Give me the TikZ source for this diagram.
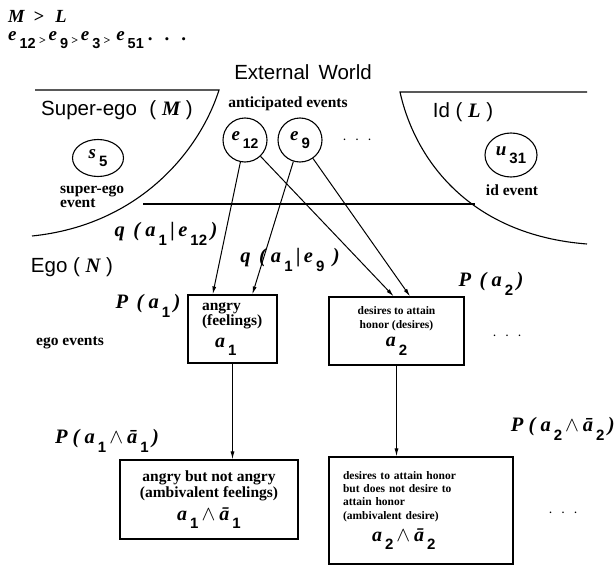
\documentclass[tikz,border=0pt]{standalone}
\usepackage{fontspec}
\setmainfont{Liberation Serif}
\newfontfamily\hv{Liberation Sans}
\usepackage{tikz}
\usetikzlibrary{shapes.geometric,arrows.meta,calc}

\newcommand{\mv}[1]{{\rmfamily\bfseries\itshape #1}}
\newcommand{\vsub}[3][15]{\mv{#2}\hspace{3pt}\raisebox{-0.42em}{\hv\bfseries\upshape\fontsize{#1}{#1}\selectfont #3}}
\newcommand{\gt}{\hspace{3pt}{\fontsize{12}{12}\selectfont\raisebox{-4pt}{\mv{>}}}\hspace{3pt}}
\newcommand{\wg}{\hspace{3pt}{\fontsize{22}{22}\selectfont$\wedge$}\hspace{4pt}}
\newcommand{\tdots}[1][10pt]{{\bfseries .\hspace{#1}.\hspace{#1}.}}

\begin{document}
\begin{tikzpicture}[x=1pt,y=-1pt,
  world/.style={font=\hv\fontsize{20.5}{22}\selectfont, inner sep=0pt},
  note/.style={font=\bfseries\fontsize{15.5}{14}\selectfont, align=left, inner sep=0pt},
  prob/.style={font=\bfseries\itshape\fontsize{20.5}{20.5}\selectfont, inner sep=0pt},
  evt/.style={draw, ellipse, line width=1.1pt, inner sep=0pt, font=\fontsize{19}{19}\selectfont},
  egobox/.style={draw, rectangle, line width=1.1pt, inner sep=0pt, align=center},
  link/.style={line width=1pt, -{Latex[length=8pt,width=4pt]}},
  rim/.style={line width=1.1pt}]
\useasboundingbox (0,0) rectangle (615,567);

\node[anchor=west, inner sep=0pt, font=\fontsize{18.5}{18.5}\selectfont] (order) at (8,16) {\mv{M\hspace{4pt} >\hspace{7pt} L}};
\node[anchor=west, inner sep=0pt, font=\fontsize{19}{19}\selectfont] (chain) at (8,40)
  {\vsub[14.5]{e}{12}\gt\vsub[14.5]{e}{9}\gt\vsub[14.5]{e}{3}\gt\hspace{3pt}\vsub[14.5]{e}{51}\hspace{4pt}\tdots[12pt]};

\node[world] (world) at (303,72) {External\, World};

\draw[rim] (35,90) -- (219,90) .. controls (200,150) and (140,225) .. (32,236);
\draw[rim] (587,92) -- (400,92) .. controls (415,160) and (470,235) .. (587,244);
\draw[rim] (143,204) -- (475,204);

\node[world] (superego) at (117,110) {Super-ego\,\, ( \mv{M} )};
\node[evt, minimum width=51pt, minimum height=37pt] (s5) at (98,158) {\vsub{s}{5}};
\node[note, anchor=west] (selabel) at (60,197) {super-ego\\event};

\node[note] (antic) at (288,104) {anticipated events};
\node[evt, minimum width=44pt, minimum height=44pt] (e12) at (245,140) {\vsub[14]{e}{12}};
\node[evt, minimum width=44pt, minimum height=44pt] (e9) at (300,140) {\vsub{e}{9}};
\node[inner sep=0pt] (edots) at (357,140) {\tdots};

\node[world] (id) at (463,112) {Id ( \mv{L} )};
\node[evt, minimum width=52pt, minimum height=44pt] (u31) at (511,155) {\vsub{u}{31}};
\node[note] (idlabel) at (512,190) {id event};

\node[world] (ego) at (72,267) {Ego ( \mv{N} )};
\node[note] (egolabel) at (70,343) {ego events};

\node[egobox, minimum width=89pt, minimum height=68pt, text width=61pt, align=left,
  font=\bfseries\fontsize{15.5}{14}\selectfont] (a1) at (232.5,329)
  {angry\\(feelings)\\[8pt]{\fontsize{20}{20}\selectfont\hspace*{13pt}\vsub{a}{1}}};
\node[egobox, minimum width=135pt, minimum height=68pt,
  font=\bfseries\fontsize{11.5}{14}\selectfont] (a2) at (396.5,331)
  {desires to attain\\honor (desires)\\[4pt]{\fontsize{20}{20}\selectfont\vsub{a}{2}}};

\node[egobox, minimum width=178pt, minimum height=79pt,
  font=\bfseries\fontsize{15.5}{16}\selectfont] (amb1) at (209,499.5)
  {angry but not angry\\(ambivalent feelings)\\[6pt]{\fontsize{20}{20}\selectfont\vsub{a}{1}\wg\vsub{ā}{1}}};
\node[egobox, minimum width=184pt, minimum height=107pt, text width=156pt, align=left,
  font=\bfseries\fontsize{11.5}{13.4}\selectfont] (amb2) at (421,510.5)
  {desires to attain honor\\but does not desire to\\attain honor\\(ambivalent desire)\\[6pt]{\fontsize{20}{20}\selectfont\hspace*{29pt}\vsub{a}{2}\wg\vsub{ā}{2}}};

\node[prob] (q12) at (166,234) {q\, ( \vsub{a}{1}\,|\,\vsub{e}{12}\,)};
\node[prob] (q9) at (290,260) {q\, ( \vsub{a}{1}\,|\,\vsub{e}{9}\, )};
\node[prob] (pa1) at (148,306) {P\, ( \vsub{a}{1}\,)};
\node[prob] (pa2) at (491,284) {P\, ( \vsub{a}{2}\,)};
\node[prob] (pamb1) at (107,441) {P ( \vsub{a}{1}\wg\vsub{ā}{1}\,)};
\node[prob, anchor=east] (pamb2) at (615,429) {P ( \vsub{a}{2}\wg\vsub{ā}{2}\,)};

\node[inner sep=0pt] (adots) at (507,336) {\tdots};
\node[inner sep=0pt] (bdots) at (563,513) {\tdots};

\draw[link] (e12) -- ($(a1.north west)!0.28!(a1.north east)$);
\draw[link] (e9) -- ($(a1.north west)!0.72!(a1.north east)$);
\draw[link] (e12) -- ($(a2.north west)!0.48!(a2.north east)$);
\draw[link] (e9) -- ($(a2.north west)!0.6!(a2.north east)$);
\draw[link] (a1.south) -- (a1.south |- amb1.north);
\draw[link] (a2.south) -- (a2.south |- amb2.north);
\end{tikzpicture}
\end{document}
